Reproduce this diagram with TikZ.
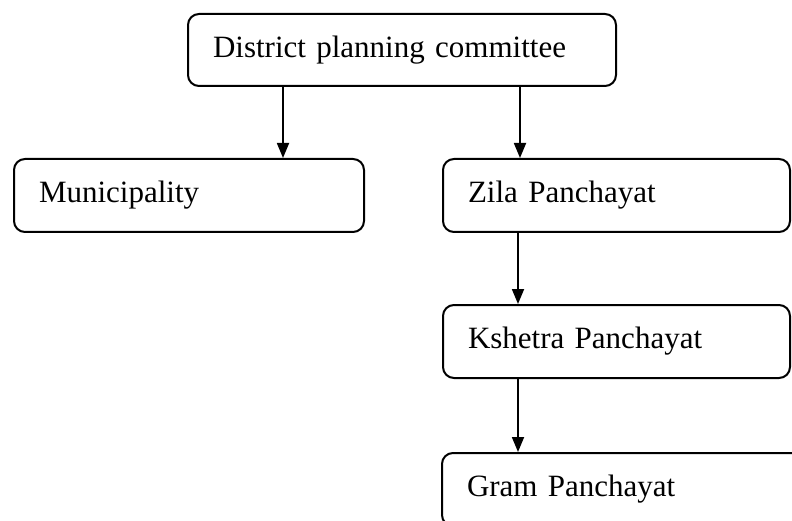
\documentclass[tikz,border=0pt]{standalone}
\usepackage{fontspec}
\setmainfont{Liberation Serif}
\usetikzlibrary{arrows.meta}
\begin{document}
\begin{tikzpicture}[x=1pt,y=-1pt,
  % rounded box: #1 = width, #2 = height, #3 = text width (width - 50pt)
  box/.style n args={3}{draw=black, line width=2pt, rounded corners=11pt,
    anchor=north west, minimum width=#1, minimum height=#2,
    inner xsep=25pt, inner ysep=0pt, text width=#3, align=left,
    font=\fontsize{31}{36}\selectfont},
  arr/.style={draw=black, line width=1.8pt,
    -{Triangle[length=15pt,width=12pt]}}]
  \useasboundingbox (0,0) rectangle (792,521);
  \clip (0,0) rectangle (792,521);
  \fill[white] (0,0) rectangle (792,521);

  \node[box={428pt}{72pt}{378pt}] (dpc) at (187,13) {District planning committee};
  \node[box={350pt}{73pt}{300pt}] (mun) at (13,158) {Municipality};
  \node[box={347pt}{73pt}{297pt}] (zila) at (442,158) {Zila Panchayat};
  \node[box={347pt}{73pt}{297pt}] (ksh) at (442,304) {Kshetra Panchayat};
  \node[box={380pt}{73pt}{330pt}] (gram) at (441,452) {Gram Panchayat};

  \draw[arr] ([xshift=96pt]dpc.south west) -- ([xshift=96pt]dpc.south west |- mun.north);
  \draw[arr] ([xshift=333pt]dpc.south west) -- ([xshift=333pt]dpc.south west |- zila.north);
  \draw[arr] ([xshift=76pt]zila.south west) -- ([xshift=76pt]zila.south west |- ksh.north);
  \draw[arr] ([xshift=76pt]ksh.south west) -- ([xshift=76pt]ksh.south west |- gram.north);
\end{tikzpicture}
\end{document}
